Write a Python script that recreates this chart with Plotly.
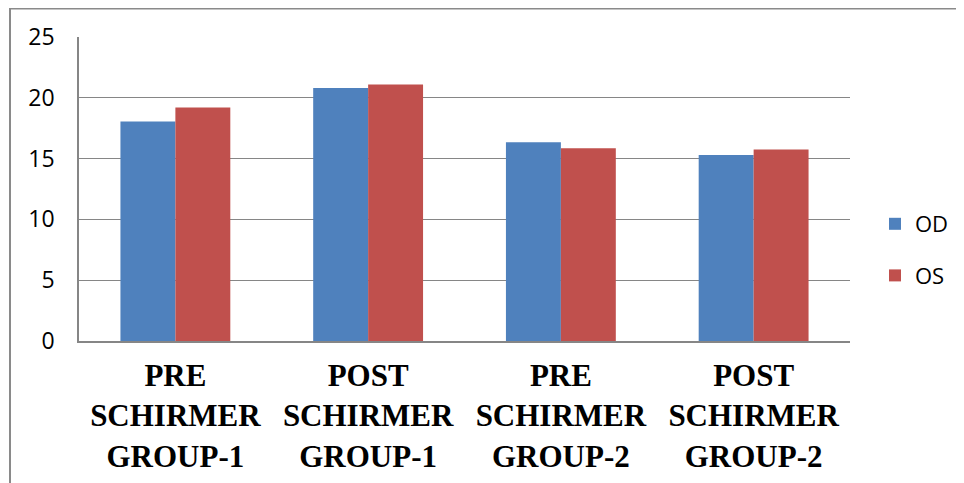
import plotly.graph_objects as go

categories = ["PRE<br>SCHIRMER<br>GROUP-1", "POST<br>SCHIRMER<br>GROUP-1",
              "PRE<br>SCHIRMER<br>GROUP-2", "POST<br>SCHIRMER<br>GROUP-2"]
od_values = [18.05, 20.8, 16.35, 15.3]
os_values = [19.2, 21.1, 15.85, 15.75]
y_ticks = [0, 5, 10, 15, 20, 25]

# page has an 8px body margin; size the figure so the shot matches 964x483
W, H = 956, 475
L, R, T, B = 71, 114, 29, 142
pw, ph = W - L - R, H - T - B

def px_x(x):
    return (x - L) / pw

def px_y(y):
    return (H - B - y) / ph

fig = go.Figure()
fig.add_trace(go.Bar(x=categories, y=od_values, name="OD", legendgroup="od",
                     marker=dict(color="#4F81BD", line=dict(width=0))))
fig.add_trace(go.Bar(x=categories, y=os_values, name="OS", legendgroup="os",
                     marker=dict(color="#C0504D", line=dict(width=0))))

fig.update_layout(
    width=W, height=H,
    margin=dict(l=L, r=R, t=T, b=B, autoexpand=False),
    paper_bgcolor="white", plot_bgcolor="white",
    barmode="group", bargap=0.43, bargroupgap=0,
    font=dict(family="Open Sans", size=22, color="#000000"),
    legend=dict(x=px_x(867), y=px_y(242), xanchor="left", yanchor="middle",
                tracegroupgap=20, font=dict(size=22, family="Open Sans"),
                bgcolor="rgba(0,0,0,0)"),
    showlegend=True,
    xaxis=dict(showline=True, linecolor="#868686", linewidth=1.5, automargin=False,
               tickfont=dict(family="Liberation Serif", size=31, color="#000000",
                             weight="bold"),
               ticklabelstandoff=6, showgrid=False),
    yaxis=dict(range=[0, 25], tickvals=y_ticks, showgrid=True, automargin=False,
               gridcolor="#868686", gridwidth=1.2, showline=True,
               linecolor="#868686", linewidth=1.5, zeroline=False,
               ticklabelstandoff=18, tickfont=dict(size=23, family="Open Sans")),
    shapes=[dict(type="rect", xref="paper", yref="paper",
                 x0=px_x(2), x1=px_x(962), y0=px_y(490), y1=px_y(0.5),
                 line=dict(color="#8a8a8a", width=2), fillcolor="rgba(0,0,0,0)",
                 layer="below")],
)

fig.write_html("out.html")
